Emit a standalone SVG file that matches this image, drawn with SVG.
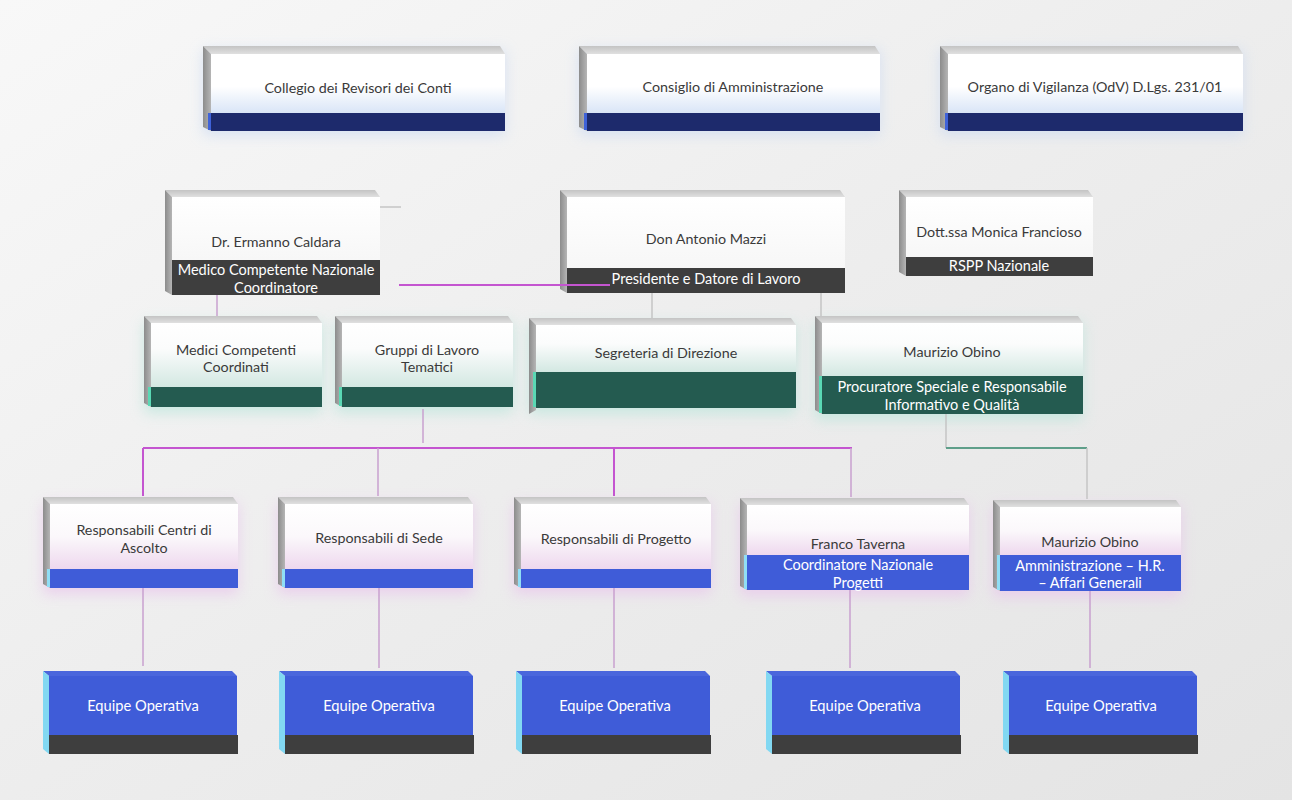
<svg xmlns="http://www.w3.org/2000/svg" width="1292" height="800" viewBox="0 0 1292 800">
<defs>
  <linearGradient id="bg" x1="0" y1="0" x2="1" y2="1">
    <stop offset="0" stop-color="#f8f8f8"/>
    <stop offset="0.5" stop-color="#ededed"/>
    <stop offset="1" stop-color="#e4e4e4"/>
  </linearGradient>
  <linearGradient id="topg" x1="0" y1="0" x2="0" y2="1">
    <stop offset="0" stop-color="#c4c4c4"/>
    <stop offset="1" stop-color="#e0e0e0"/>
  </linearGradient>
  <linearGradient id="sideg" x1="0" y1="0" x2="1" y2="0">
    <stop offset="0" stop-color="#8c8c8c"/>
    <stop offset="1" stop-color="#b5b5b5"/>
  </linearGradient>
  <linearGradient id="fblue" x1="0" y1="0" x2="0" y2="1">
    <stop offset="0" stop-color="#ffffff"/>
    <stop offset="0.55" stop-color="#ffffff"/>
    <stop offset="1" stop-color="#d9e5f7"/>
  </linearGradient>
  <linearGradient id="fwhite" x1="0" y1="0" x2="0" y2="1">
    <stop offset="0" stop-color="#ffffff"/>
    <stop offset="1" stop-color="#f7f7f7"/>
  </linearGradient>
  <linearGradient id="fmint" x1="0" y1="0" x2="0" y2="1">
    <stop offset="0" stop-color="#ffffff"/>
    <stop offset="0.4" stop-color="#fbfcfc"/>
    <stop offset="1" stop-color="#d3e8e2"/>
  </linearGradient>
  <linearGradient id="flav" x1="0" y1="0" x2="0" y2="1">
    <stop offset="0" stop-color="#ffffff"/>
    <stop offset="0.5" stop-color="#fbf8fb"/>
    <stop offset="1" stop-color="#eed8ee"/>
  </linearGradient>
  <filter id="glow" x="-20%" y="-40%" width="140%" height="180%">
    <feGaussianBlur stdDeviation="7"/>
  </filter>
  <style>
    .top{fill:url(#topg)}
    .side{fill:url(#sideg)}
    .f1{fill:url(#fblue)}
    .f2{fill:url(#fwhite)}
    .f3{fill:url(#fmint)}
    .f4{fill:url(#flav)}
    .navy{fill:#1d2a6c}
    .navyE{fill:#3f62d8}
    .dark{fill:#3e3e3e}
    .green{fill:#245b50}
    .greenE{fill:#5ad8b4}
    .blue{fill:#3f5cd8}
    .blueE{fill:#90def5}
    .eqtop{fill:#4a66dc}
    .eqside{fill:#82d8f2}
    .g1{fill:#c9d9f2;opacity:0.7}
    .g3{fill:#bfe6dd;opacity:0.8}
    .g4{fill:#e9c8ec;opacity:0.8}
    .lbl{font-family:Lato,"Open Sans",sans-serif;font-size:14.3px;fill:#3a3a3a;text-anchor:middle}
    .bt{font-family:Lato,"Open Sans",sans-serif;font-size:14.5px;fill:#ffffff;text-anchor:middle}
    .eq{font-family:Lato,"Open Sans",sans-serif;font-size:14.7px;fill:#ffffff;text-anchor:middle}
    .pl{stroke:#c455d0;stroke-width:2;fill:none}
    .pl2{stroke:#c8a0cf;stroke-width:1.5;fill:none}
    .gl{stroke:#c4c4c4;stroke-width:1.5;fill:none}
    .grn{stroke:#5f9f8a;stroke-width:2;fill:none}
  </style>
</defs>
<rect x="0" y="0" width="1292" height="800" fill="url(#bg)"/>

<!-- Row 1 -->
<g id="collegio">
  <rect class="g1" x="203" y="50" width="302" height="85" filter="url(#glow)"/>
  <polygon class="top" points="203,46 500,46 505,54 211,54"/>
  <polygon class="side" points="203,46 211,54 211,131 203,127"/>
  <rect class="f1" x="211" y="54" width="294" height="59"/>
  <rect class="navy" x="211" y="113" width="294" height="18"/>
  <rect class="navyE" x="208" y="113" width="3" height="17"/>
  <text class="lbl" x="358" y="93">Collegio dei Revisori dei Conti</text>
</g>
<g id="consiglio">
  <rect class="g1" x="579" y="50" width="301" height="85" filter="url(#glow)"/>
  <polygon class="top" points="579,46 875,46 880,54 587,54"/>
  <polygon class="side" points="579,46 587,54 587,131 579,127"/>
  <rect class="f1" x="587" y="54" width="293" height="59"/>
  <rect class="navy" x="587" y="113" width="293" height="18"/>
  <rect class="navyE" x="584" y="113" width="3" height="17"/>
  <text class="lbl" x="733" y="92">Consiglio di Amministrazione</text>
</g>
<g id="odv">
  <rect class="g1" x="940" y="50" width="303" height="85" filter="url(#glow)"/>
  <polygon class="top" points="940,46 1238,46 1243,54 948,54"/>
  <polygon class="side" points="940,46 948,54 948,131 940,127"/>
  <rect class="f1" x="948" y="54" width="295" height="59"/>
  <rect class="navy" x="948" y="113" width="295" height="18"/>
  <rect class="navyE" x="945" y="113" width="3" height="17"/>
  <text class="lbl" x="1095" y="92">Organo di Vigilanza (OdV) D.Lgs. 231/01</text>
</g>

<!-- Row 2 -->
<g id="caldara">
  <polygon class="top" points="165,190 375,190 380,197 172,197"/>
  <polygon class="side" points="165,190 172,197 172,295 165,291"/>
  <rect class="f2" x="172" y="197" width="208" height="63"/>
  <rect class="dark" x="172" y="260" width="208" height="35"/>
  <text class="lbl" x="276" y="247">Dr. Ermanno Caldara</text>
  <text class="bt" x="276" y="275">Medico Competente Nazionale</text>
  <text class="bt" x="276" y="293">Coordinatore</text>
</g>
<g id="mazzi">
  <polygon class="top" points="560,190 840,190 845,197 567,197"/>
  <polygon class="side" points="560,190 567,197 567,293 560,289"/>
  <rect class="f2" x="567" y="197" width="278" height="71"/>
  <rect class="dark" x="567" y="268" width="278" height="25"/>
  <text class="lbl" x="706" y="244">Don Antonio Mazzi</text>
  <text class="bt" x="706" y="284">Presidente e Datore di Lavoro</text>
</g>
<g id="francioso">
  <polygon class="top" points="899,190 1088,190 1093,197 906,197"/>
  <polygon class="side" points="899,190 906,197 906,276 899,272"/>
  <rect class="f2" x="906" y="197" width="187" height="60"/>
  <rect class="dark" x="906" y="257" width="187" height="19"/>
  <text class="lbl" x="999" y="237">Dott.ssa Monica Francioso</text>
  <text class="bt" x="999" y="271">RSPP Nazionale</text>
</g>

<!-- Row 3 -->
<g id="medici">
  <rect class="g3" x="144" y="322" width="178" height="91" filter="url(#glow)"/>
  <polygon class="top" points="144,316 317,316 322,323 151,323"/>
  <polygon class="side" points="144,316 151,323 151,407 144,403"/>
  <rect class="f3" x="151" y="323" width="171" height="64"/>
  <rect class="green" x="151" y="387" width="171" height="20"/>
  <rect class="greenE" x="148" y="387" width="3" height="19"/>
  <text class="lbl" x="236" y="355">Medici Competenti</text>
  <text class="lbl" x="236" y="372">Coordinati</text>
</g>
<g id="gruppi">
  <rect class="g3" x="335" y="322" width="178" height="91" filter="url(#glow)"/>
  <polygon class="top" points="335,316 508,316 513,323 342,323"/>
  <polygon class="side" points="335,316 342,323 342,407 335,403"/>
  <rect class="f3" x="342" y="323" width="171" height="64"/>
  <rect class="green" x="342" y="387" width="171" height="20"/>
  <rect class="greenE" x="339" y="387" width="3" height="19"/>
  <text class="lbl" x="427" y="355">Gruppi di Lavoro</text>
  <text class="lbl" x="427" y="372">Tematici</text>
</g>
<g id="segreteria">
  <rect class="g3" x="529" y="324" width="267" height="90" filter="url(#glow)"/>
  <polygon class="top" points="529,318 791,318 796,325 536,325"/>
  <polygon class="side" points="529,318 536,325 536,410 529,414"/>
  <rect class="f3" x="536" y="325" width="260" height="47"/>
  <rect class="green" x="536" y="372" width="260" height="36"/>
  <rect class="greenE" x="533" y="372" width="3" height="35"/>
  <text class="lbl" x="666" y="358">Segreteria di Direzione</text>
</g>
<g id="obino-procuratore">
  <rect class="g3" x="815" y="322" width="268" height="98" filter="url(#glow)"/>
  <polygon class="top" points="815,316 1078,316 1083,323 822,323"/>
  <polygon class="side" points="815,316 822,323 822,414 815,410"/>
  <rect class="f3" x="822" y="323" width="261" height="53"/>
  <rect class="green" x="822" y="376" width="261" height="38"/>
  <rect class="greenE" x="819" y="376" width="3" height="37"/>
  <text class="lbl" x="952" y="357">Maurizio Obino</text>
  <text class="bt" x="952" y="392">Procuratore Speciale e Responsabile</text>
  <text class="bt" x="952" y="410">Informativo e Qualità</text>
</g>

<!-- Row 4 -->
<g id="centri-ascolto">
  <rect class="g4" x="43" y="503" width="195" height="91" filter="url(#glow)"/>
  <polygon class="top" points="43,497 233,497 238,504 50,504"/>
  <polygon class="side" points="43,497 50,504 50,588 43,584"/>
  <rect class="f4" x="50" y="504" width="188" height="65"/>
  <rect class="blue" x="50" y="569" width="188" height="19"/>
  <rect class="blueE" x="47" y="569" width="3" height="18"/>
  <text class="lbl" x="144" y="535">Responsabili Centri di</text>
  <text class="lbl" x="144" y="553">Ascolto</text>
</g>
<g id="resp-sede">
  <rect class="g4" x="278" y="503" width="195" height="91" filter="url(#glow)"/>
  <polygon class="top" points="278,497 468,497 473,504 285,504"/>
  <polygon class="side" points="278,497 285,504 285,588 278,584"/>
  <rect class="f4" x="285" y="504" width="188" height="65"/>
  <rect class="blue" x="285" y="569" width="188" height="19"/>
  <rect class="blueE" x="282" y="569" width="3" height="18"/>
  <text class="lbl" x="379" y="543">Responsabili di Sede</text>
</g>
<g id="resp-progetto">
  <rect class="g4" x="514" y="503" width="197" height="91" filter="url(#glow)"/>
  <polygon class="top" points="514,497 706,497 711,504 521,504"/>
  <polygon class="side" points="514,497 521,504 521,588 514,584"/>
  <rect class="f4" x="521" y="504" width="190" height="65"/>
  <rect class="blue" x="521" y="569" width="190" height="19"/>
  <rect class="blueE" x="518" y="569" width="3" height="18"/>
  <text class="lbl" x="616" y="544">Responsabili di Progetto</text>
</g>
<g id="taverna">
  <rect class="g4" x="740" y="504" width="229" height="92" filter="url(#glow)"/>
  <polygon class="top" points="740,498 964,498 969,505 747,505"/>
  <polygon class="side" points="740,498 747,505 747,590 740,586"/>
  <rect class="f4" x="747" y="505" width="222" height="50"/>
  <rect class="blue" x="747" y="555" width="222" height="35"/>
  <rect class="blueE" x="744" y="555" width="3" height="34"/>
  <text class="lbl" x="858" y="549">Franco Taverna</text>
  <text class="bt" x="858" y="570">Coordinatore Nazionale</text>
  <text class="bt" x="858" y="588">Progetti</text>
</g>
<g id="obino-amministrazione">
  <rect class="g4" x="993" y="506" width="188" height="91" filter="url(#glow)"/>
  <polygon class="top" points="993,500 1176,500 1181,507 1000,507"/>
  <polygon class="side" points="993,500 1000,507 1000,591 993,587"/>
  <rect class="f4" x="1000" y="507" width="181" height="48"/>
  <rect class="blue" x="1000" y="555" width="181" height="36"/>
  <rect class="blueE" x="997" y="555" width="3" height="35"/>
  <text class="lbl" x="1090" y="547">Maurizio Obino</text>
  <text class="bt" x="1090" y="571">Amministrazione – H.R.</text>
  <text class="bt" x="1090" y="588">– Affari Generali</text>
</g>

<!-- Row 5 -->
<g id="equipe-1">
  <polygon class="eqtop" points="43,671 232,671 237,676 49,676"/>
  <polygon class="eqside" points="43,671 49,676 49,754 43,749"/>
  <rect class="blue" x="49" y="676" width="188" height="59"/>
  <rect class="dark" x="49" y="735" width="189" height="19"/>
  <text class="eq" x="143" y="711">Equipe Operativa</text>
</g>
<g id="equipe-2">
  <polygon class="eqtop" points="279,671 468,671 473,676 285,676"/>
  <polygon class="eqside" points="279,671 285,676 285,754 279,749"/>
  <rect class="blue" x="285" y="676" width="188" height="59"/>
  <rect class="dark" x="285" y="735" width="189" height="19"/>
  <text class="eq" x="379" y="711">Equipe Operativa</text>
</g>
<g id="equipe-3">
  <polygon class="eqtop" points="516,671 705,671 710,676 522,676"/>
  <polygon class="eqside" points="516,671 522,676 522,754 516,749"/>
  <rect class="blue" x="522" y="676" width="188" height="59"/>
  <rect class="dark" x="522" y="735" width="189" height="19"/>
  <text class="eq" x="615" y="711">Equipe Operativa</text>
</g>
<g id="equipe-4">
  <polygon class="eqtop" points="766,671 955,671 960,676 772,676"/>
  <polygon class="eqside" points="766,671 772,676 772,754 766,749"/>
  <rect class="blue" x="772" y="676" width="188" height="59"/>
  <rect class="dark" x="772" y="735" width="189" height="19"/>
  <text class="eq" x="865" y="711">Equipe Operativa</text>
</g>
<g id="equipe-5">
  <polygon class="eqtop" points="1003,671 1192,671 1197,676 1009,676"/>
  <polygon class="eqside" points="1003,671 1009,676 1009,754 1003,749"/>
  <rect class="blue" x="1009" y="676" width="188" height="59"/>
  <rect class="dark" x="1009" y="735" width="189" height="19"/>
  <text class="eq" x="1101" y="711">Equipe Operativa</text>
</g>

<!-- Connectors -->
<g id="connectors">
  <line class="gl" x1="380" y1="207" x2="401" y2="207"/>
  <line class="pl" x1="399" y1="285" x2="610" y2="285"/>
  <line class="pl2" x1="217" y1="295" x2="217" y2="316"/>
  <line class="gl" x1="652" y1="293" x2="652" y2="318"/>
  <line class="gl" x1="821" y1="293" x2="821" y2="316"/>
  <line class="pl2" x1="423" y1="409" x2="423" y2="443"/>
  <line class="pl" x1="143" y1="448" x2="852" y2="448"/>
  <line class="pl" x1="143" y1="448" x2="143" y2="496"/>
  <line class="pl2" x1="378" y1="448" x2="378" y2="496"/>
  <line class="pl" x1="614" y1="448" x2="614" y2="496"/>
  <line class="pl2" x1="851" y1="448" x2="851" y2="497"/>
  <line class="gl" x1="946" y1="414" x2="946" y2="448"/>
  <line class="grn" x1="946" y1="448" x2="1087" y2="448"/>
  <line class="gl" x1="1087" y1="448" x2="1087" y2="499"/>
  <line class="pl2" x1="143" y1="588" x2="143" y2="666"/>
  <line class="pl2" x1="379" y1="588" x2="379" y2="668"/>
  <line class="pl2" x1="614" y1="588" x2="614" y2="668"/>
  <line class="pl2" x1="850" y1="590" x2="850" y2="668"/>
  <line class="pl2" x1="1090" y1="591" x2="1090" y2="668"/>
</g>
</svg>
